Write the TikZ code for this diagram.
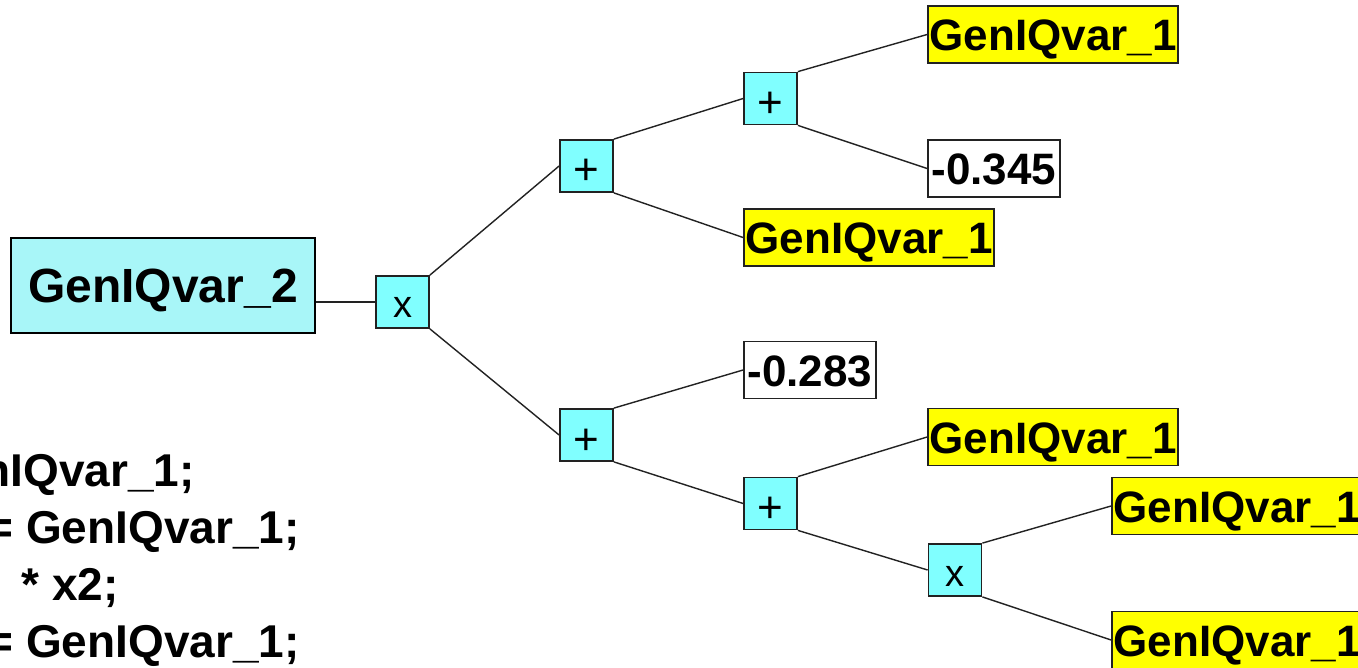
\documentclass[tikz,border=0pt]{standalone}
\usepackage{fontspec}
\setmainfont{Liberation Sans}
\definecolor{opcyan}{HTML}{80FFFF}
\definecolor{rootcyan}{HTML}{A8F6F8}
\definecolor{leafyellow}{HTML}{FFFF00}
\definecolor{edgegray}{HTML}{222222}
\tikzset{
  opbox/.style={draw=edgegray, line width=1.8pt, fill=opcyan, minimum width=53pt, minimum height=52pt, inner sep=0pt},
  plusop/.style={opbox, text height=38pt, text depth=0pt, font=\fontsize{44}{44}\selectfont},
  timesop/.style={opbox, text height=32pt, text depth=0pt, font=\fontsize{38}{38}\selectfont},
  leafbox/.style={draw=edgegray, line width=1.8pt, fill=leafyellow, minimum width=250pt, minimum height=57pt, inner sep=0pt, text height=32pt, text depth=0pt, font=\fontsize{44}{50}\selectfont\bfseries},
  numbox/.style={draw=edgegray, line width=1.8pt, fill=white, minimum width=132pt, minimum height=57pt, inner sep=0pt, text height=32pt, text depth=0pt, font=\fontsize{44}{50}\selectfont\bfseries},
  rootbox/.style={draw=black, line width=2.6pt, fill=rootcyan, minimum width=304pt, minimum height=95pt, inner sep=0pt, text height=35pt, text depth=0pt, font=\fontsize{48}{56}\selectfont\bfseries},
  conn/.style={draw=edgegray, line width=1.4pt},
  codeline/.style={anchor=base east, inner sep=0pt, font=\fontsize{46}{57}\selectfont\bfseries}
}
\begin{document}
\begin{tikzpicture}[x=1pt,y=-1pt]
\useasboundingbox[fill=white] (0,0) rectangle (1358,668);
% code lines
\node[codeline] (t1) at (195,486) {nIQvar\_1;};
\node[codeline] (t2) at (300,543) {= GenIQvar\_1;};
\node[codeline] (t3) at (119,600) {* x2;};
\node[codeline] (t4) at (300,657) {= GenIQvar\_1;};
% tree nodes
\node[rootbox] (G2) at (163,285.5) {GenIQvar\_2};
\node[timesop] (M1) at (402.5,302) {x};
\node[plusop] (P1) at (586.5,166) {+};
\node[plusop] (P2) at (770.5,98.5) {+};
\node[leafbox] (L1) at (1053,34.5) {GenIQvar\_1};
\node[numbox] (C1) at (994,168.5) {-0.345};
\node[leafbox] (L2) at (869,237.5) {GenIQvar\_1};
\node[plusop] (P3) at (586.5,435) {+};
\node[numbox] (C2) at (810,370) {-0.283};
\node[plusop] (P4) at (770.5,503.5) {+};
\node[leafbox] (L3) at (1053,437) {GenIQvar\_1};
\node[timesop] (M2) at (955,570) {x};
\node[leafbox] (L4) at (1237,506) {GenIQvar\_1};
\node[leafbox] (L5) at (1237,640) {GenIQvar\_1};
% connectors
\draw[conn] (M1.west -| G2.east) -- (M1.west);
\draw[conn] (M1.north east) -- (P1.west);
\draw[conn] (M1.south east) -- (P3.west);
\draw[conn] (P1.north east) -- (P2.west);
\draw[conn] (P1.south east) -- (L2.west);
\draw[conn] (P2.north east) -- (L1.west);
\draw[conn] (P2.south east) -- (C1.west);
\draw[conn] (P3.north east) -- (C2.west);
\draw[conn] (P3.south east) -- (P4.west);
\draw[conn] (P4.north east) -- (L3.west);
\draw[conn] (P4.south east) -- (M2.west);
\draw[conn] (M2.north east) -- (L4.west);
\draw[conn] (M2.south east) -- (L5.west);
\end{tikzpicture}
\end{document}
